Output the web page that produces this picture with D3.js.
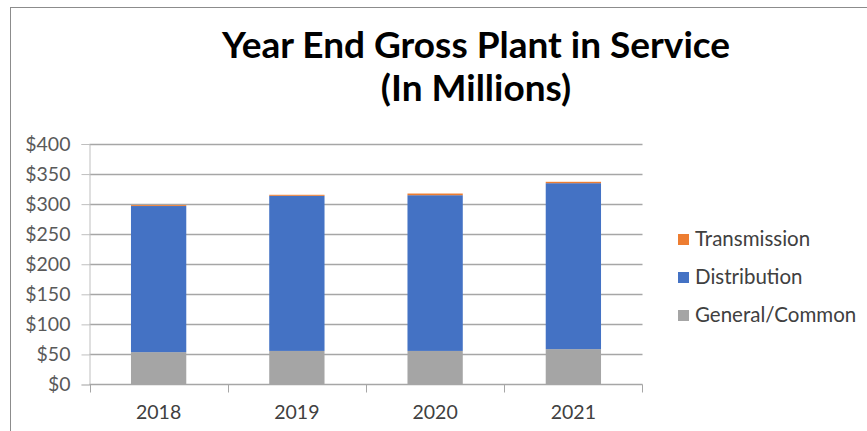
<!DOCTYPE html>
<html>
<head>
<meta charset="utf-8">
<script src="https://cdn.jsdelivr.net/npm/d3@7"></script>
<style>
  body { margin: 0; background: #fff; }
  text { font-family: Lato, "Open Sans", sans-serif; }
</style>
</head>
<body>
<div id="chart"></div>
<script>
// data (millions of dollars)
const years = ["2018", "2019", "2020", "2021"];
const general = [53, 55, 55, 58];
const distribution = [243, 258, 259, 276];
const transmission = [1.5, 1.7, 2.8, 2.3];
const yTicks = [0, 50, 100, 150, 200, 250, 300, 350, 400];
const seriesNames = ["General/Common", "Distribution", "Transmission"];
const colors = ["#a5a5a5", "#4472c4", "#ed7d31"];

const rows = years.map((yr, i) => ({
    year: yr,
    "General/Common": general[i],
    "Distribution": distribution[i],
    "Transmission": transmission[i]
}));

var svg = d3.select("#chart").append("svg")
    .attr("width", 867)
    .attr("height", 431);

// outer frame (continues past the right/bottom edge)
svg.append("rect")
    .attr("x", 10.5)
    .attr("y", 7.5)
    .attr("width", 900)
    .attr("height", 500)
    .attr("fill", "#fff")
    .attr("stroke", "#8c8c8c");

// title
var title = svg.append("text")
    .attr("text-anchor", "middle")
    .style("font-weight", "bold")
    .style("font-size", "37px")
    .attr("fill", "#000");
title.append("tspan").attr("x", 476).attr("y", 58).text("Year End Gross Plant in Service");
title.append("tspan").attr("x", 476).attr("y", 101).text("(In Millions)");

// scales
var x = d3.scaleBand()
    .domain(years)
    .range([89.5, 642.5])
    .paddingInner(0.6)
    .paddingOuter(0.3);

var xCat = d3.scaleBand()
    .domain(years)
    .range([89.5, 642.5]);

var y = d3.scaleLinear()
    .domain([0, 400])
    .range([384, 143.5]);

// gridlines
svg.append("g")
    .selectAll("line")
    .data(yTicks.filter(d => d > 0))
    .enter()
    .append("line")
    .attr("x1", 89.5)
    .attr("x2", 642.5)
    .attr("y1", d => Math.round(y(d)) + 0.5)
    .attr("y2", d => Math.round(y(d)) + 0.5)
    .attr("stroke", "#a6a6a6")
    .attr("stroke-width", 1.3);

// y axis
var yAxis = svg.append("g")
    .attr("transform", "translate(89.5,0.5)")
    .call(d3.axisLeft(y).tickValues(yTicks).tickFormat(d => "$" + d).tickSize(8).tickPadding(11));
yAxis.select(".domain").attr("stroke", "#bfbfbf");
yAxis.selectAll(".tick line").attr("stroke", "#bfbfbf");
yAxis.selectAll("text")
    .attr("fill", "#595959")
    .style("font-size", "19.5px")
    .style("font-family", "Lato, sans-serif");

// stacked bars
var stacked = d3.stack().keys(seriesNames)(rows);

svg.append("g")
    .selectAll("g")
    .data(stacked)
    .enter()
    .append("g")
    .attr("fill", (d, i) => colors[i])
    .selectAll("rect")
    .data(d => d)
    .enter()
    .append("rect")
    .attr("x", d => x(d.data.year))
    .attr("width", x.bandwidth())
    .attr("y", d => y(d[1]))
    .attr("height", d => y(d[0]) - y(d[1]));

// x axis: line, boundary ticks, centred labels
var xAxis = svg.append("g")
    .attr("transform", "translate(0," + (Math.round(y(0)) + 0.5) + ")");
xAxis.append("line")
    .attr("x1", 89.5)
    .attr("x2", 642.5)
    .attr("stroke", "#a6a6a6")
    .attr("stroke-width", 1.3);
xAxis.selectAll(".bt")
    .data(years.concat(["end"]))
    .enter()
    .append("line")
    .attr("class", "bt")
    .attr("x1", d => d === "end" ? 642.5 : Math.round(xCat(d)) + 0.5)
    .attr("x2", d => d === "end" ? 642.5 : Math.round(xCat(d)) + 0.5)
    .attr("y1", 0)
    .attr("y2", 8)
    .attr("stroke", "#a6a6a6");
xAxis.selectAll(".lbl")
    .data(years)
    .enter()
    .append("text")
    .attr("class", "lbl")
    .attr("x", d => x(d) + x.bandwidth() / 2)
    .attr("y", 34)
    .attr("text-anchor", "middle")
    .attr("fill", "#404040")
    .style("font-size", "19.5px")
    .text(d => d);

// legend (top to bottom: Transmission, Distribution, General/Common)
var legendItems = seriesNames.slice().reverse();
var legend = svg.append("g")
    .selectAll("g")
    .data(legendItems)
    .enter()
    .append("g")
    .attr("transform", (d, i) => "translate(678," + (234 + i * 38) + ")");
legend.append("rect")
    .attr("width", 11)
    .attr("height", 11)
    .attr("fill", d => colors[seriesNames.indexOf(d)]);
legend.append("text")
    .attr("x", 17)
    .attr("y", 12)
    .attr("fill", "#404040")
    .style("font-size", "20.5px")
    .text(d => d);
</script>
</body>
</html>
